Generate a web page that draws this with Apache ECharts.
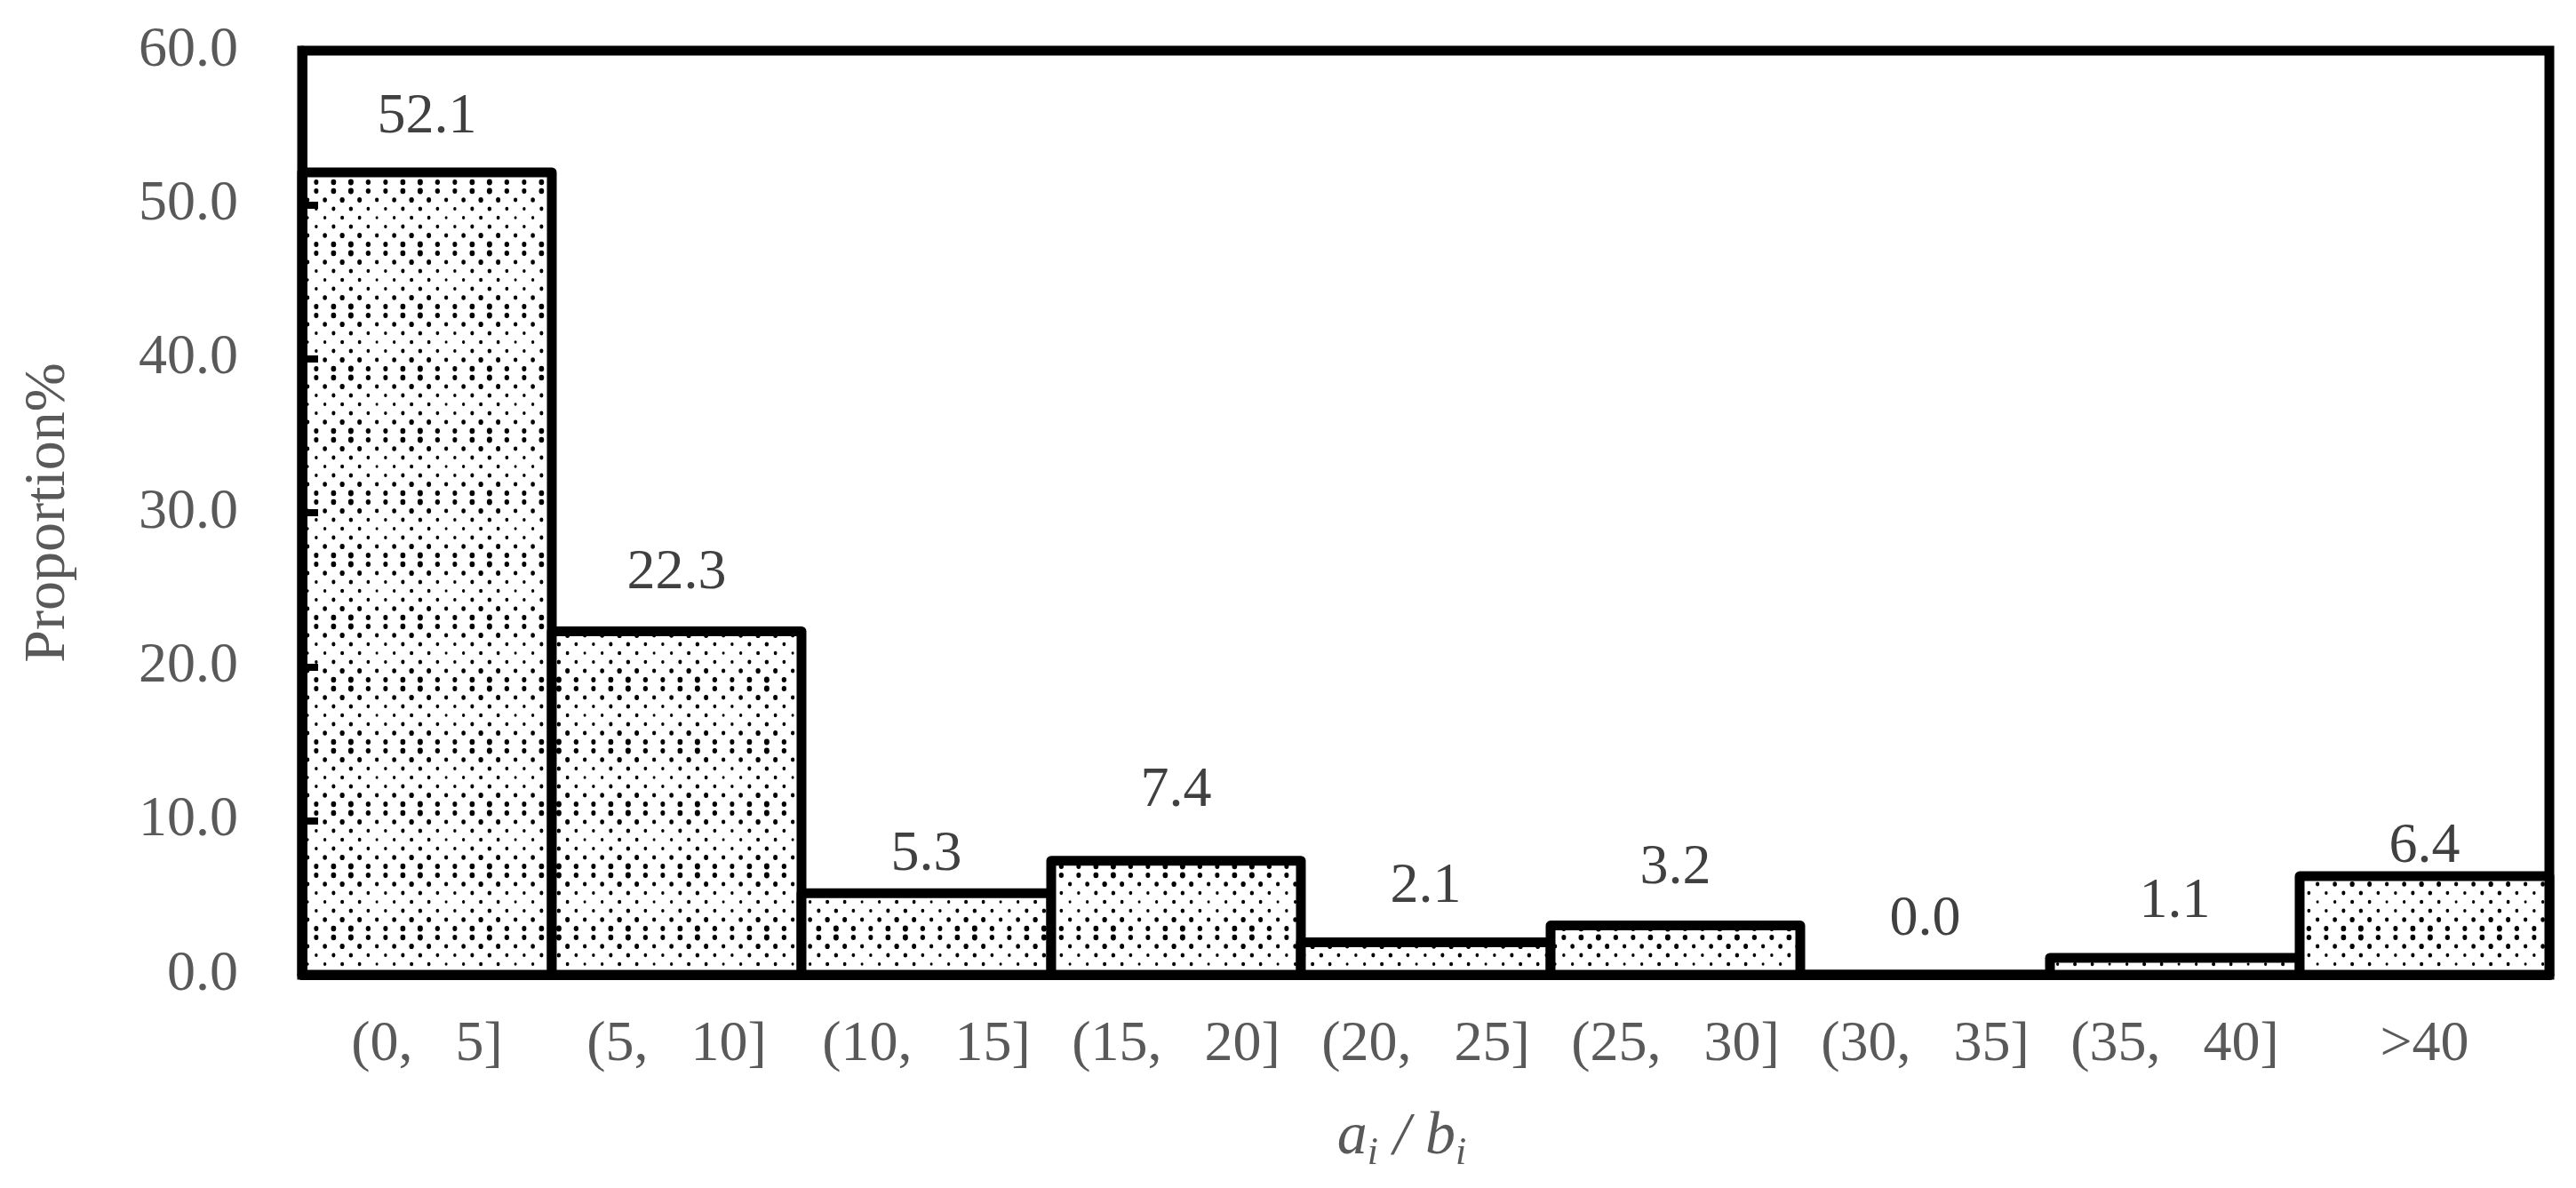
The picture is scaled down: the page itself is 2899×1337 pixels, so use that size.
<!DOCTYPE html>
<html><head><meta charset="utf-8">
<script src="https://cdn.jsdelivr.net/npm/echarts@6/dist/echarts.min.js"></script>
<style>html,body{margin:0;padding:0;background:#fff}#c{width:2899px;height:1337px}</style>
</head><body><div id="c"></div>
<script>
// ---- data ----
const categories = ['(0,   5]', '(5,   10]', '(10,   15]', '(15,   20]', '(20,   25]', '(25,   30]', '(30,   35]', '(35,   40]', '>40'];
const proportions = [52.1, 22.3, 5.3, 7.4, 2.1, 3.2, 0.0, 1.1, 6.4];
const yMin = 0, yMax = 60, yStep = 10;
const yName = 'Proportion%';

// ---- styling (label distance above each bar, as placed in the original) ----
const labelGap = [24, 28, 5, 41, 25, 27, 24, 25, -5];
const FONT = '"Liberation Serif", "Times New Roman", serif';

function dotPattern() {
  const W = 78, H = 70;
  const c = document.createElement('canvas');
  c.width = W; c.height = H;
  const g = c.getContext('2d');
  g.fillStyle = '#fff'; g.fillRect(0, 0, W, H);
  g.fillStyle = '#000';
  for (let r = 0; r < 7; r++) {
    const y = 5 + r * 10;
    const off = (r % 2) * 9.75;
    for (let k = -1; k < 5; k++) {
      const x = off + 4.875 + k * 19.5;
      const mx = 0.5 + 0.5 * Math.cos(2 * Math.PI * x / W);
      const my = 0.5 + 0.5 * Math.cos(2 * Math.PI * y / H);
      const rad = 1.5 + 1.6 * (0.35 * mx + 0.65 * my);
      g.beginPath();
      g.ellipse(x, y, rad, rad * 1.15, 0, 0, Math.PI * 2);
      g.fill();
    }
  }
  return c;
}
const PATTERN = {image: dotPattern(), repeat: 'repeat'};

const chart = echarts.init(document.getElementById('c'), null, {renderer: 'canvas'});
const option = {
  backgroundColor: '#fff',
  animation: false,
  grid: {
    left: 340, right: 30, top: 57, bottom: 240,
    show: true, borderColor: '#000', borderWidth: 11, backgroundColor: 'transparent'
  },
  xAxis: {
    type: 'category',
    data: categories,
    axisLine: {show: true, lineStyle: {color: '#000', width: 11}},
    axisTick: {show: false},
    axisLabel: {interval: 0, margin: 47, fontFamily: FONT, fontSize: 64, color: '#595959'},
    name: '{a|a}{s|i}{a| / b}{s|i}',
    nameLocation: 'middle',
    nameGap: 148,
    nameTextStyle: {
      padding: [0, 54, 0, 0],
      rich: {
        a: {fontFamily: FONT, fontStyle: 'italic', fontSize: 68, color: '#595959', lineHeight: 70},
        s: {fontFamily: FONT, fontStyle: 'italic', fontSize: 44, color: '#595959', lineHeight: 44, padding: [36, 0, 0, 0]}
      }
    },
    z: 10
  },
  yAxis: {
    type: 'value',
    min: yMin, max: yMax, interval: yStep,
    axisLine: {show: true, lineStyle: {color: '#000', width: 11}},
    axisTick: {show: true, inside: true, length: 18, lineStyle: {color: '#000', width: 8}},
    splitLine: {show: false},
    axisLabel: {margin: 72, fontFamily: FONT, fontSize: 64, color: '#595959', formatter: v => v.toFixed(1)},
    name: yName,
    nameLocation: 'middle',
    nameGap: 252,
    nameTextStyle: {fontFamily: FONT, fontSize: 66, color: '#595959'},
    z: 10
  },
  series: [{
    type: 'custom',
    data: proportions.map((v, i) => [i, v]),
    encode: {x: 0, y: 1},
    z: 2,
    renderItem: function (params, api) {
      const i = api.value(0), v = api.value(1);
      const base = api.coord([i, 0]);
      const top = api.coord([i, v]);
      const w = api.size([1, 0])[0];
      return {
        type: 'rect',
        shape: {x: base[0] - w / 2, y: top[1], width: w, height: base[1] - top[1]},
        style: {fill: PATTERN, stroke: '#000', lineWidth: 11, lineJoin: 'round'},
        textContent: {
          style: {text: Number(v).toFixed(1), fontFamily: FONT, fontSize: 64, fill: '#404040'}
        },
        textConfig: {position: 'top', distance: labelGap[params.dataIndex]}
      };
    }
  }]
};
chart.setOption(option);
</script>
</body></html>
